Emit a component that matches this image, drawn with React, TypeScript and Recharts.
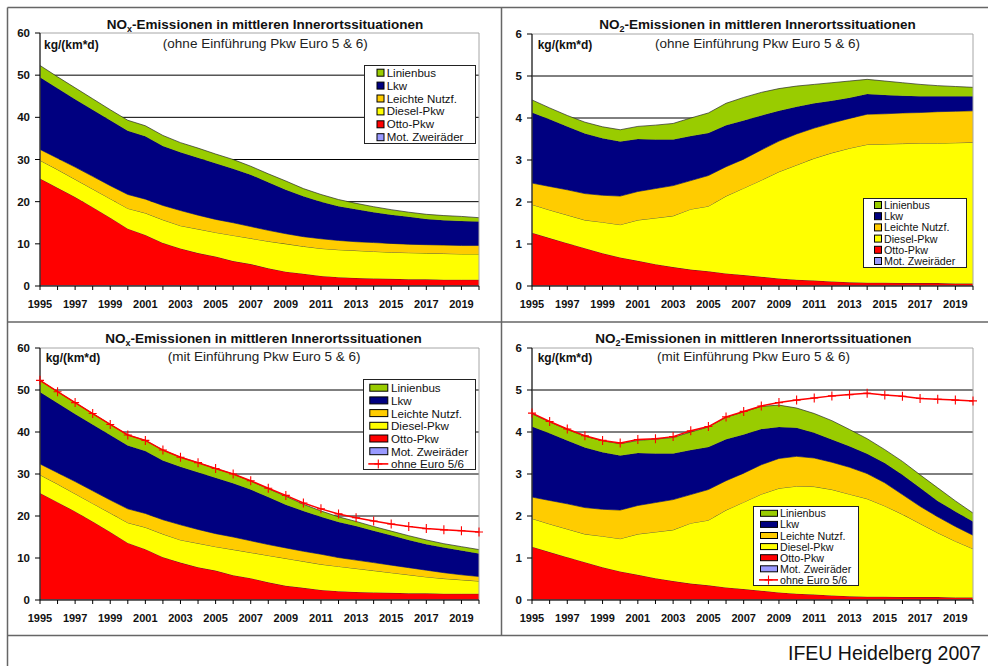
import React from 'react';
import { ComposedChart, Area, Line, XAxis, YAxis, CartesianGrid, ReferenceArea } from 'recharts';

const FONT = "'Liberation Sans', Arial, Helvetica, sans-serif";

// ---------- categories / ticks ----------
const years = [1995, 1996, 1997, 1998, 1999, 2000, 2001, 2002, 2003, 2004, 2005, 2006, 2007, 2008, 2009, 2010, 2011, 2012, 2013, 2014, 2015, 2016, 2017, 2018, 2019, 2020];
const labelYears = [1995, 1997, 1999, 2001, 2003, 2005, 2007, 2009, 2011, 2013, 2015, 2017, 2019];
const noxTicks = [0, 10, 20, 30, 40, 50, 60];
const no2Ticks = [0, 1, 2, 3, 4, 5, 6];
const noxGrid = [10, 20, 30, 40, 50];
const no2Grid = [1, 2, 3, 4, 5];

// ---------- NOx, ohne Euro 5 & 6 ----------
const noxOhneMot = [0.2, 0.2, 0.2, 0.2, 0.2, 0.2, 0.2, 0.2, 0.2, 0.1, 0.1, 0.1, 0.1, 0.1, 0.1, 0.1, 0.1, 0.1, 0.1, 0.1, 0.1, 0.1, 0.1, 0.1, 0.1, 0.1];
const noxOhneOtto = [25.3, 23.1, 20.9, 18.5, 16.0, 13.4, 11.9, 10.0, 8.7, 7.7, 6.9, 5.8, 5.1, 4.1, 3.3, 2.8, 2.3, 2.0, 1.8, 1.7, 1.6, 1.5, 1.5, 1.4, 1.4, 1.4];
const noxOhneDiesel = [4.3, 4.3, 4.2, 4.3, 4.5, 4.8, 5.2, 5.5, 5.4, 5.7, 5.7, 6.1, 6.1, 6.4, 6.6, 6.5, 6.5, 6.5, 6.5, 6.4, 6.3, 6.3, 6.2, 6.2, 6.1, 6.1];
const noxOhneLeicht = [2.6, 2.7, 2.9, 3.0, 3.1, 3.3, 3.3, 3.4, 3.6, 3.3, 3.1, 3.0, 2.8, 2.6, 2.4, 2.3, 2.3, 2.2, 2.1, 2.1, 2.1, 2.0, 2.0, 2.0, 2.0, 2.0];
const noxOhneLkw = [17.1, 16.6, 16.1, 15.8, 15.5, 15.1, 14.9, 14.1, 13.8, 13.6, 13.3, 12.8, 12.3, 11.4, 10.4, 9.6, 8.8, 8.1, 7.7, 7.2, 6.8, 6.5, 6.1, 5.9, 5.8, 5.7];
const noxOhneBus = [2.8, 2.7, 2.7, 2.6, 2.5, 2.5, 2.5, 2.5, 2.3, 2.3, 2.2, 2.2, 2.0, 2.0, 2.1, 1.8, 1.7, 1.6, 1.4, 1.3, 1.2, 1.1, 1.1, 1.1, 1.1, 0.9];

// ---------- NOx, mit Euro 5 & 6 ----------
const noxMitMot = [0.2, 0.2, 0.2, 0.2, 0.2, 0.2, 0.2, 0.2, 0.2, 0.1, 0.1, 0.1, 0.1, 0.1, 0.1, 0.1, 0.1, 0.1, 0.1, 0.1, 0.1, 0.1, 0.1, 0.1, 0.1, 0.1];
const noxMitOtto = [25.3, 23.1, 20.9, 18.5, 16.0, 13.4, 11.9, 10.0, 8.7, 7.7, 6.9, 5.8, 5.1, 4.1, 3.3, 2.8, 2.3, 2.0, 1.8, 1.7, 1.6, 1.5, 1.5, 1.4, 1.4, 1.4];
const noxMitDiesel = [4.3, 4.3, 4.2, 4.3, 4.5, 4.8, 5.2, 5.5, 5.4, 5.7, 5.7, 6.1, 6.1, 6.4, 6.5, 6.3, 6.1, 5.9, 5.6, 5.2, 4.8, 4.4, 3.9, 3.6, 3.3, 3.0];
const noxMitLeicht = [2.6, 2.7, 2.9, 3.0, 3.1, 3.3, 3.3, 3.4, 3.6, 3.3, 3.1, 3.0, 2.8, 2.6, 2.5, 2.4, 2.4, 2.1, 2.0, 1.9, 1.8, 1.7, 1.6, 1.4, 1.2, 1.1];
const noxMitLkw = [17.1, 16.6, 16.1, 15.8, 15.5, 15.1, 14.9, 14.1, 13.8, 13.6, 13.3, 12.8, 12.2, 11.3, 10.3, 9.6, 8.9, 8.5, 8.1, 7.6, 7.1, 6.6, 6.2, 6.0, 5.8, 5.5];
const noxMitBus = [2.8, 2.7, 2.7, 2.6, 2.5, 2.5, 2.5, 2.5, 2.3, 2.3, 2.2, 2.2, 2.0, 2.0, 2.0, 1.6, 1.4, 1.2, 1.1, 1.0, 1.0, 1.0, 1.0, 0.9, 0.9, 0.9];
const noxOhneEuro56 = [52.3, 49.6, 47.0, 44.4, 41.8, 39.3, 38.0, 35.7, 34.0, 32.7, 31.3, 30.0, 28.4, 26.6, 24.9, 23.1, 21.7, 20.5, 19.6, 18.8, 18.1, 17.5, 17.0, 16.7, 16.5, 16.2];

// ---------- NO2, ohne Euro 5 & 6 ----------
const no2OhneMot = [0.01, 0.01, 0.01, 0.01, 0.01, 0.01, 0.01, 0.01, 0.01, 0.01, 0.01, 0.01, 0.01, 0.01, 0.01, 0.01, 0.01, 0.01, 0.01, 0.01, 0.01, 0.01, 0.01, 0.01, 0.01, 0.01];
const no2OhneOtto = [1.26, 1.13, 1.01, 0.89, 0.77, 0.67, 0.59, 0.51, 0.44, 0.38, 0.34, 0.29, 0.25, 0.21, 0.17, 0.14, 0.12, 0.10, 0.08, 0.07, 0.07, 0.06, 0.06, 0.06, 0.05, 0.05];
const no2OhneDiesel = [0.67, 0.67, 0.67, 0.67, 0.74, 0.78, 0.97, 1.10, 1.22, 1.44, 1.55, 1.84, 2.07, 2.30, 2.54, 2.73, 2.91, 3.06, 3.19, 3.29, 3.30, 3.32, 3.33, 3.33, 3.35, 3.36];
const no2OhneLeicht = [0.51, 0.56, 0.60, 0.63, 0.64, 0.68, 0.68, 0.70, 0.72, 0.68, 0.73, 0.70, 0.69, 0.72, 0.73, 0.74, 0.72, 0.71, 0.71, 0.72, 0.72, 0.73, 0.73, 0.75, 0.75, 0.75];
const no2OhneLkw = [1.68, 1.60, 1.51, 1.43, 1.36, 1.30, 1.25, 1.17, 1.10, 1.06, 1.01, 0.99, 0.92, 0.82, 0.72, 0.65, 0.59, 0.53, 0.49, 0.48, 0.45, 0.41, 0.39, 0.37, 0.36, 0.35];
const no2OhneBus = [0.30, 0.27, 0.26, 0.27, 0.27, 0.28, 0.30, 0.34, 0.38, 0.43, 0.48, 0.52, 0.55, 0.55, 0.53, 0.49, 0.45, 0.43, 0.40, 0.35, 0.33, 0.31, 0.28, 0.25, 0.23, 0.21];

// ---------- NO2, mit Euro 5 & 6 ----------
const no2MitMot = [0.01, 0.01, 0.01, 0.01, 0.01, 0.01, 0.01, 0.01, 0.01, 0.01, 0.01, 0.01, 0.01, 0.01, 0.01, 0.01, 0.01, 0.01, 0.01, 0.01, 0.01, 0.01, 0.01, 0.01, 0.01, 0.01];
const no2MitOtto = [1.26, 1.13, 1.01, 0.89, 0.77, 0.67, 0.59, 0.51, 0.44, 0.38, 0.34, 0.29, 0.25, 0.21, 0.17, 0.14, 0.12, 0.10, 0.08, 0.07, 0.07, 0.06, 0.06, 0.06, 0.05, 0.05];
const no2MitDiesel = [0.67, 0.67, 0.67, 0.67, 0.74, 0.78, 0.97, 1.10, 1.22, 1.44, 1.55, 1.84, 2.07, 2.30, 2.48, 2.56, 2.57, 2.52, 2.43, 2.33, 2.16, 1.97, 1.75, 1.53, 1.34, 1.16];
const no2MitLeicht = [0.51, 0.56, 0.60, 0.63, 0.64, 0.68, 0.68, 0.70, 0.72, 0.68, 0.73, 0.70, 0.69, 0.70, 0.71, 0.71, 0.68, 0.65, 0.64, 0.60, 0.55, 0.47, 0.41, 0.38, 0.35, 0.32];
const no2MitLkw = [1.68, 1.60, 1.51, 1.43, 1.36, 1.30, 1.25, 1.17, 1.10, 1.06, 1.01, 0.99, 0.92, 0.85, 0.75, 0.68, 0.60, 0.54, 0.50, 0.47, 0.47, 0.47, 0.44, 0.38, 0.36, 0.33];
const no2MitBus = [0.30, 0.27, 0.26, 0.27, 0.27, 0.28, 0.30, 0.34, 0.38, 0.43, 0.48, 0.52, 0.54, 0.54, 0.52, 0.47, 0.46, 0.45, 0.40, 0.36, 0.32, 0.32, 0.31, 0.31, 0.25, 0.20];
const no2OhneEuro56 = [4.45, 4.25, 4.07, 3.91, 3.80, 3.74, 3.82, 3.84, 3.89, 4.03, 4.13, 4.36, 4.49, 4.62, 4.70, 4.76, 4.81, 4.86, 4.89, 4.92, 4.88, 4.85, 4.80, 4.78, 4.76, 4.74];

// ---------- series meta (bottom -> top of stack) ----------
const seriesKeys = ['mot', 'otto', 'diesel', 'leicht', 'lkw', 'bus'];
const seriesNames: Record<string, string> = {
  mot: 'Mot. Zweiräder',
  otto: 'Otto-Pkw',
  diesel: 'Diesel-Pkw',
  leicht: 'Leichte Nutzf.',
  lkw: 'Lkw',
  bus: 'Linienbus',
};
const seriesColors: Record<string, string> = {
  mot: '#9999ff',
  otto: '#ff0000',
  diesel: '#ffff00',
  leicht: '#ffcc00',
  lkw: '#000080',
  bus: '#99cc00',
};
const lineName = 'ohne Euro 5/6';
const lineColor = '#ff0000';

function buildRows(mot: number[], otto: number[], diesel: number[], leicht: number[], lkw: number[], bus: number[], ohne?: number[]) {
  return years.map((year, i) => {
    const row: any = { year, mot: mot[i], otto: otto[i], diesel: diesel[i], leicht: leicht[i], lkw: lkw[i], bus: bus[i] };
    if (ohne) row.ohne = ohne[i];
    return row;
  });
}

const dataNoxOhne = buildRows(noxOhneMot, noxOhneOtto, noxOhneDiesel, noxOhneLeicht, noxOhneLkw, noxOhneBus);
const dataNo2Ohne = buildRows(no2OhneMot, no2OhneOtto, no2OhneDiesel, no2OhneLeicht, no2OhneLkw, no2OhneBus);
const dataNoxMit = buildRows(noxMitMot, noxMitOtto, noxMitDiesel, noxMitLeicht, noxMitLkw, noxMitBus, noxOhneEuro56);
const dataNo2Mit = buildRows(no2MitMot, no2MitOtto, no2MitDiesel, no2MitLeicht, no2MitLkw, no2MitBus, no2OhneEuro56);

const PlusDot = (props: any) => {
  const { cx, cy, index } = props;
  if (cx == null || cy == null) return <g key={`p${index}`} />;
  return (
    <path
      key={`p${index}`}
      d={`M${cx - 4},${cy}H${cx + 4}M${cx},${cy - 4.5}V${cy + 4.5}`}
      stroke={lineColor}
      strokeWidth={1.1}
      fill="none"
    />
  );
};

type PanelProps = {
  left: number;
  top: number;
  width: number;
  height: number;
  margin: { top: number; right: number; bottom: number; left: number };
  yWidth: number;
  yMax: number;
  yTicks: number[];
  grid: number[];
  data: any[];
  withLine: boolean;
};

function Panel(p: PanelProps) {
  return (
    <div style={{ position: 'absolute', left: p.left, top: p.top }}>
      <ComposedChart width={p.width} height={p.height} data={p.data} margin={p.margin}>
        <CartesianGrid horizontal vertical={false} horizontalValues={p.grid} stroke="#000" strokeWidth={1} />
        <XAxis
          type="number"
          dataKey="year"
          domain={[1995, 2020]}
          ticks={years}
          interval={0}
          allowDecimals={false}
          tickFormatter={(v: number) => (labelYears.indexOf(v) >= 0 ? String(v) : '')}
          tick={{ fontSize: 11, fontWeight: 'bold', fill: '#111', fontFamily: FONT }}
          tickLine={{ stroke: '#000' }}
          axisLine={{ stroke: '#000' }}
          tickSize={4}
          tickMargin={10}
          height={20}
        />
        <YAxis
          type="number"
          domain={[0, p.yMax]}
          ticks={p.yTicks}
          interval={0}
          tick={{ fontSize: 11.5, fontWeight: 'bold', fill: '#111', fontFamily: FONT }}
          tickLine={{ stroke: '#000' }}
          axisLine={{ stroke: '#000' }}
          tickSize={5}
          tickMargin={5}
          width={p.yWidth}
        />
        {seriesKeys.map((k) => (
          <Area
            key={k}
            type="linear"
            dataKey={k}
            name={seriesNames[k]}
            stackId="s"
            fill={seriesColors[k]}
            fillOpacity={1}
            stroke="#2a2a2a"
            strokeWidth={0.7}
            isAnimationActive={false}
            dot={false}
            activeDot={false}
          />
        ))}
        <ReferenceArea x1={1995} x2={2020} y1={0} y2={p.yMax} fill="none" fillOpacity={0} stroke="#a6a6a6" strokeWidth={1} />
        {p.withLine && (
          <Line
            type="linear"
            dataKey="ohne"
            name={lineName}
            stroke={lineColor}
            strokeWidth={1.5}
            dot={PlusDot}
            activeDot={false}
            isAnimationActive={false}
          />
        )}
      </ComposedChart>
    </div>
  );
}

type LegendProps = {
  left: number;
  top: number;
  width: number;
  height: number;
  rowTop: number;
  rowGap: number;
  swX: number;
  swW: number;
  swH: number;
  textX: number;
  fontSize: number;
  withLine: boolean;
};

function LegendBox(l: LegendProps) {
  const order = ['bus', 'lkw', 'leicht', 'diesel', 'otto', 'mot'];
  return (
    <svg
      style={{ position: 'absolute', left: l.left, top: l.top, overflow: 'visible' }}
      width={l.width}
      height={l.height}
    >
      <rect x={0.5} y={0.5} width={l.width - 1} height={l.height - 1} fill="#fff" stroke="#222" strokeWidth={1} />
      {order.map((k, i) => {
        const cy = l.rowTop + i * l.rowGap;
        return (
          <g key={k}>
            <rect x={l.swX + 0.5} y={cy - l.swH / 2} width={l.swW} height={l.swH} fill={seriesColors[k]} stroke="#000" strokeWidth={1} />
            <text x={l.textX} y={cy} dominantBaseline="central" fontSize={l.fontSize} fontFamily={FONT} fill="#111">
              {seriesNames[k]}
            </text>
          </g>
        );
      })}
      {l.withLine && (
        <g>
          <line
            x1={l.swX - 1}
            x2={l.swX + l.swW + 1}
            y1={l.rowTop + 6 * l.rowGap}
            y2={l.rowTop + 6 * l.rowGap}
            stroke={lineColor}
            strokeWidth={1.6}
          />
          <path
            d={`M${l.swX + l.swW / 2 - 4},${l.rowTop + 6 * l.rowGap}H${l.swX + l.swW / 2 + 4}M${l.swX + l.swW / 2},${l.rowTop + 6 * l.rowGap - 4.5}V${l.rowTop + 6 * l.rowGap + 4.5}`}
            stroke={lineColor}
            strokeWidth={1.1}
          />
          <text x={l.textX} y={l.rowTop + 6 * l.rowGap} dominantBaseline="central" fontSize={l.fontSize} fontFamily={FONT} fill="#111">
            {lineName}
          </text>
        </g>
      )}
    </svg>
  );
}

function Title({ cx, cy, sub }: { cx: number; cy: number; sub: string }) {
  return (
    <div
      style={{
        position: 'absolute',
        left: cx - 250,
        top: cy - 9,
        width: 500,
        height: 18,
        lineHeight: '18px',
        textAlign: 'center',
        fontFamily: FONT,
        fontWeight: 'bold',
        fontSize: 13.5,
        color: '#111',
        whiteSpace: 'nowrap',
      }}
    >
      NO<span style={{ fontSize: 9, position: 'relative', top: 3 }}>{sub}</span>-Emissionen in mittleren Innerortssituationen
    </div>
  );
}

function Subtitle({ cx, cy, text }: { cx: number; cy: number; text: string }) {
  return (
    <div
      style={{
        position: 'absolute',
        left: cx - 200,
        top: cy - 9,
        width: 400,
        height: 18,
        lineHeight: '18px',
        textAlign: 'center',
        fontFamily: FONT,
        fontSize: 13.5,
        color: '#222',
        whiteSpace: 'nowrap',
      }}
    >
      {text}
    </div>
  );
}

function Unit({ x, cy }: { x: number; cy: number }) {
  return (
    <div
      style={{
        position: 'absolute',
        left: x,
        top: cy - 8,
        height: 16,
        lineHeight: '16px',
        fontFamily: FONT,
        fontWeight: 'bold',
        fontSize: 12,
        color: '#111',
        whiteSpace: 'nowrap',
      }}
    >
      kg/(km*d)
    </div>
  );
}

export default function App() {
  const frame = '#666';
  return (
    <div style={{ position: 'absolute', left: 0, top: 0, width: 988, height: 666, background: '#fff', overflow: 'hidden' }}>
      <svg style={{ position: 'absolute', left: 0, top: 0 }} width={988} height={666}>
        <line x1={7.5} x2={988} y1={7.5} y2={7.5} stroke={frame} strokeWidth={1.5} />
        <line x1={7.5} x2={7.5} y1={7.5} y2={666} stroke={frame} strokeWidth={1.5} />
        <line x1={501.5} x2={501.5} y1={7.5} y2={636} stroke={frame} strokeWidth={1.5} />
        <line x1={7.5} x2={988} y1={322} y2={322} stroke={frame} strokeWidth={1.5} />
        <line x1={7.5} x2={988} y1={635.5} y2={635.5} stroke={frame} strokeWidth={1.5} />
      </svg>

      <Panel left={0} top={0} width={495} height={315} margin={{ top: 33, right: 16, bottom: 9, left: 0 }} yWidth={40} yMax={60} yTicks={noxTicks} grid={noxGrid} data={dataNoxOhne} withLine={false} />
      <Panel left={495} top={0} width={493} height={315} margin={{ top: 34, right: 15, bottom: 9, left: 0 }} yWidth={37} yMax={6} yTicks={no2Ticks} grid={no2Grid} data={dataNo2Ohne} withLine={false} />
      <Panel left={0} top={315} width={495} height={315} margin={{ top: 33, right: 16, bottom: 10, left: 0 }} yWidth={40} yMax={60} yTicks={noxTicks} grid={noxGrid} data={dataNoxMit} withLine={true} />
      <Panel left={495} top={315} width={493} height={315} margin={{ top: 33, right: 15, bottom: 10, left: 0 }} yWidth={37} yMax={6} yTicks={no2Ticks} grid={no2Grid} data={dataNo2Mit} withLine={true} />

      <Title cx={265} cy={24.5} sub="x" />
      <Title cx={757.5} cy={24.5} sub="2" />
      <Title cx={263.5} cy={338.5} sub="x" />
      <Title cx={753.3} cy={338.5} sub="2" />

      <Subtitle cx={265.3} cy={43.5} text="(ohne Einführung Pkw Euro 5 & 6)" />
      <Subtitle cx={757.5} cy={43.7} text="(ohne Einführung Pkw Euro 5 & 6)" />
      <Subtitle cx={264.2} cy={357.3} text="(mit Einführung Pkw Euro 5 & 6)" />
      <Subtitle cx={753.5} cy={357.3} text="(mit Einführung Pkw Euro 5 & 6)" />

      <Unit x={44} cy={45} />
      <Unit x={537.7} cy={44.5} />
      <Unit x={45.7} cy={358.3} />
      <Unit x={537.7} cy={358.3} />

      <LegendBox left={364} top={65} width={112} height={79} rowTop={7.7} rowGap={12.9} swX={12.5} swW={7} swH={7} textX={22.7} fontSize={11.5} withLine={false} />
      <LegendBox left={863} top={198} width={104} height={70} rowTop={7} rowGap={11.2} swX={11} swW={7} swH={7} textX={21} fontSize={10.7} withLine={false} />
      <LegendBox left={363} top={379} width={113} height={91} rowTop={8.7} rowGap={12.7} swX={6.3} swW={18} swH={7} textX={28} fontSize={11.6} withLine={true} />
      <LegendBox left={753} top={506} width={106} height={80} rowTop={7.3} rowGap={11.1} swX={7} swW={17} swH={6} textX={27} fontSize={10.7} withLine={true} />

      <div
        style={{
          position: 'absolute',
          left: 788,
          top: 641,
          height: 24,
          lineHeight: '24px',
          fontFamily: FONT,
          fontSize: 19.5,
          color: '#111',
          whiteSpace: 'nowrap',
        }}
      >
        IFEU Heidelberg 2007
      </div>
    </div>
  );
}
